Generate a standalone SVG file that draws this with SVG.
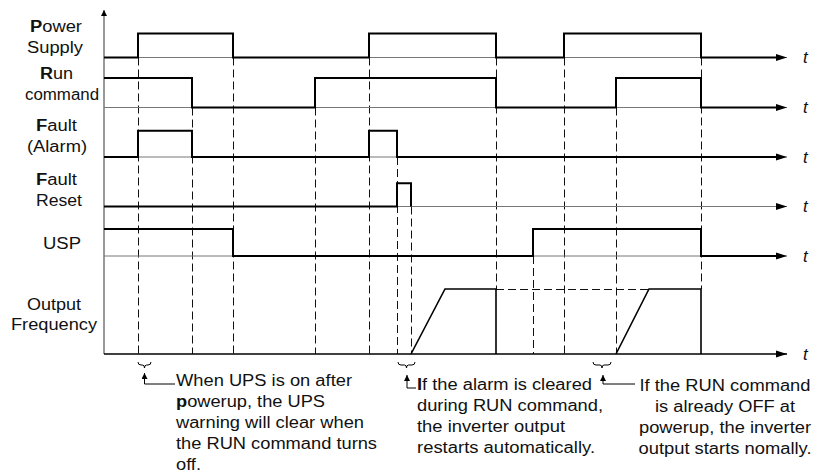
<svg xmlns="http://www.w3.org/2000/svg" width="813" height="472" viewBox="0 0 813 472">
<style>
text{font-family:"Liberation Sans",Arial,sans-serif;font-size:16px;fill:#111}
.t{font-style:italic;font-size:17px}
.axis{stroke:#777;stroke-width:1;fill:none}
.sig{stroke:#000;stroke-width:2;fill:none;stroke-linejoin:miter}
.out{stroke:#000;stroke-width:1.6;fill:none}
.dash{stroke:#111;stroke-width:1;stroke-dasharray:8 4;fill:none}
.lead{stroke:#000;stroke-width:1;fill:none}
</style>
<defs>
<marker id="ah" markerWidth="12" markerHeight="8" refX="11" refY="4" orient="auto" markerUnits="userSpaceOnUse"><path d="M0,0.5 L11,4 L0,7.5 z" fill="#000"/></marker>
<marker id="ahs" markerWidth="8" markerHeight="7" refX="6" refY="3" orient="auto" markerUnits="userSpaceOnUse"><path d="M0,0 L6,3 L0,6 z" fill="#000"/></marker>
</defs>

<rect width="813" height="472" fill="#fff"/>

<g id="connectors">
<path class="dash" d="M138.5,57.5V354 M192.5,107.5V354 M233.5,57.5V354 M315.5,107.5V354 M369.5,57.5V354 M397.5,157V354 M411.5,206.5V354 M496.5,57.5V289 M533.5,256V354 M564.5,57.5V354 M616.5,107.5V354 M701.5,57.5V289 M496,289.5H649"/>
<line x1="104" y1="354" x2="104" y2="10" stroke="#555" stroke-width="1.2" marker-end="url(#ahs)"/>
</g>

<g id="power-supply">
<text x="30" y="32" textLength="52" lengthAdjust="spacingAndGlyphs"><tspan font-weight="bold">P</tspan>ower</text>
<text x="27" y="53" textLength="56" lengthAdjust="spacingAndGlyphs">Supply</text>
<line class="axis" x1="104" y1="57.5" x2="787" y2="57.5" marker-end="url(#ah)"/>
<path class="sig" d="M104,57.5H138V33.5H233V57.5H369V33.5H496V57.5H564V33.5H701V57.5H777"/>
<text class="t" x="803" y="63">t</text>
</g>

<g id="run-command">
<text x="40" y="79" textLength="33" lengthAdjust="spacingAndGlyphs"><tspan font-weight="bold">R</tspan>un</text>
<text x="25" y="100" textLength="74" lengthAdjust="spacingAndGlyphs">command</text>
<line class="axis" x1="104" y1="107.5" x2="787" y2="107.5" marker-end="url(#ah)"/>
<path class="sig" d="M104,78H192V107.5H315V78H496V107.5H616V78H701V107.5H777"/>
<text class="t" x="803" y="113">t</text>
</g>

<g id="fault-alarm">
<text x="36" y="131" textLength="41" lengthAdjust="spacingAndGlyphs"><tspan font-weight="bold">F</tspan>ault</text>
<text x="27" y="152" textLength="60" lengthAdjust="spacingAndGlyphs">(Alarm)</text>
<line class="axis" x1="104" y1="157" x2="787" y2="157" marker-end="url(#ah)"/>
<path class="sig" d="M104,157H138V130.7H192V157H369V130.7H397V157H777"/>
<text class="t" x="803" y="162.5">t</text>
</g>

<g id="fault-reset">
<text x="36" y="185" textLength="41" lengthAdjust="spacingAndGlyphs"><tspan font-weight="bold">F</tspan>ault</text>
<text x="36" y="206" textLength="46" lengthAdjust="spacingAndGlyphs">Reset</text>
<line class="axis" x1="104" y1="206.5" x2="787" y2="206.5" marker-end="url(#ah)"/>
<path class="sig" d="M104,206.5H397V183.3H411V206.5"/>
<text class="t" x="803" y="212">t</text>
</g>

<g id="usp">
<text x="43" y="249" textLength="38" lengthAdjust="spacingAndGlyphs">USP</text>
<line class="axis" x1="104" y1="256" x2="787" y2="256" marker-end="url(#ah)"/>
<path class="sig" d="M104,229H233V256H533V229H701V256H777"/>
<text class="t" x="803" y="261.5">t</text>
</g>

<g id="output-frequency">
<text x="27" y="310" textLength="54" lengthAdjust="spacingAndGlyphs">Output</text>
<text x="11" y="330" textLength="86" lengthAdjust="spacingAndGlyphs">Frequency</text>
<line x1="104" y1="354" x2="787" y2="354" stroke="#000" stroke-width="1.6" marker-end="url(#ah)"/>
<path class="out" d="M411,354L445,289H496V354 M616,354L649,289H701V354"/>
<text class="t" x="803" y="360">t</text>
</g>

<g id="note-ups">
<path class="lead" d="M138,362Q138,365 141,365H142.5Q144.5,365 144.5,368Q144.5,365 146.5,365H148Q151,365 151,362"/>
<path class="lead" d="M175,384H144.5V373" marker-end="url(#ahs)"/>
<text x="176" y="386" textLength="176" lengthAdjust="spacingAndGlyphs">When UPS is on after</text>
<text x="176" y="407" textLength="149" lengthAdjust="spacingAndGlyphs"><tspan font-weight="bold">p</tspan>owerup, the UPS</text>
<text x="176" y="428" textLength="188" lengthAdjust="spacingAndGlyphs">warning will clear when</text>
<text x="176" y="449" textLength="201" lengthAdjust="spacingAndGlyphs">the RUN command turns</text>
<text x="176" y="470" textLength="25" lengthAdjust="spacingAndGlyphs">off.</text>
</g>

<g id="note-alarm">
<path class="lead" d="M398,362Q398,365 401,365H404.5Q406.5,365 406.5,368Q406.5,365 408.5,365H412Q415,365 415,362"/>
<path class="lead" d="M416,388H407V375" marker-end="url(#ahs)"/>
<text x="417" y="390" textLength="175" lengthAdjust="spacingAndGlyphs"><tspan font-weight="bold">I</tspan>f the alarm is cleared</text>
<text x="417" y="411" textLength="186" lengthAdjust="spacingAndGlyphs">during RUN command,</text>
<text x="417" y="432" textLength="148" lengthAdjust="spacingAndGlyphs">the inverter output</text>
<text x="417" y="453" textLength="178" lengthAdjust="spacingAndGlyphs">restarts automatically.</text>
</g>

<g id="note-run-off">
<path class="lead" d="M593,362Q593,365 596,365H600Q602,365 602,368Q602,365 604,365H608Q611,365 611,362"/>
<path class="lead" d="M635,384H603V375" marker-end="url(#ahs)"/>
<text x="725" y="391" text-anchor="middle" textLength="171" lengthAdjust="spacingAndGlyphs">If the RUN command</text>
<text x="725" y="412" text-anchor="middle" textLength="140" lengthAdjust="spacingAndGlyphs">is already OFF at</text>
<text x="725" y="433" text-anchor="middle" textLength="172" lengthAdjust="spacingAndGlyphs">powerup, the inverter</text>
<text x="725" y="454" text-anchor="middle" textLength="173" lengthAdjust="spacingAndGlyphs">output starts nomally.</text>
</g>
</svg>
